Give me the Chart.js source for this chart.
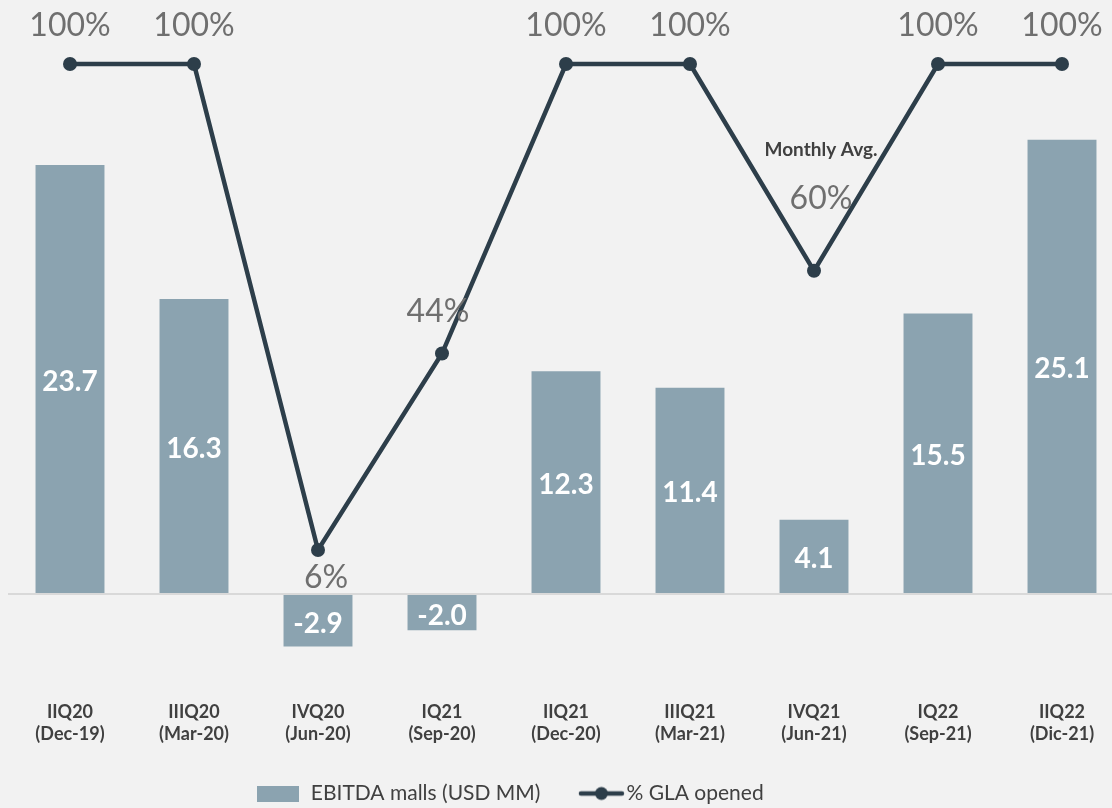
<!DOCTYPE html>
<html><head><meta charset="utf-8">
<script src="https://cdn.jsdelivr.net/npm/chart.js@4.4.1/dist/chart.umd.min.js"></script>
<style>
html,body{margin:0;padding:0;background:#F2F2F2;overflow:hidden;width:1112px;height:808px;position:relative;}
#wrap{position:absolute;left:-111px;top:0;width:1242px;height:814px;}
canvas{display:block;}
</style></head><body>
<div id="wrap"><canvas id="c" width="1242" height="814" style="width:1242px;height:814px"></canvas></div>
<script>
// ---- data ----
const categories = [["IIQ20","(Dec-19)"],["IIIQ20","(Mar-20)"],["IVQ20","(Jun-20)"],["IQ21","(Sep-20)"],["IIQ21","(Dec-20)"],["IIIQ21","(Mar-21)"],["IVQ21","(Jun-21)"],["IQ22","(Sep-21)"],["IIQ22","(Dic-21)"]];
const ebitda = [23.7, 16.3, -2.9, -2.0, 12.3, 11.4, 4.1, 15.5, 25.1];
const glaOpened = [100, 100, 6, 44, 100, 100, 60, 100, 100];
const glaNotes = ["", "", "", "", "", "", "Monthly Avg.", "", ""];
const seriesNames = ["EBITDA malls (USD MM)", "% GLA opened"];

// ---- styles ----
const BAR_COLOR = '#8BA3B0';
const LINE_COLOR = '#2D3E4A';
const TEXT_DARK = '#404040';
const TEXT_GRAY = '#6F6F6F';
const FONT = 'Lato, "Open Sans", sans-serif';
const lineLabelDx = [0, 0, 8, -4, 0, 0, 7, 0, 0];
const lineLabelDy = [-38, -38, 28, -42, -38, -38, -72, -38, -38];
const noteDy = -121;

// legend images
const barSwatch = document.createElement('canvas');
barSwatch.width = 42; barSwatch.height = 16;
(function(){const g=barSwatch.getContext('2d');g.fillStyle=BAR_COLOR;g.fillRect(0,0,42,16);})();
const lineSwatch = document.createElement('canvas');
lineSwatch.width = 62; lineSwatch.height = 16;
(function(){const g=lineSwatch.getContext('2d');g.strokeStyle=LINE_COLOR;g.lineWidth=4.5;g.lineCap='round';
  g.beginPath();g.moveTo(18,8);g.lineTo(59,8);g.stroke();
  g.fillStyle=LINE_COLOR;g.beginPath();g.arc(38.5,8,6.5,0,Math.PI*2);g.fill();})();

const labelPlugin = {
  id: 'valueLabels',
  afterDatasetsDraw(chart) {
    const ctx = chart.ctx;
    ctx.save();
    ctx.textAlign = 'center';
    ctx.textBaseline = 'middle';
    const barMeta = chart.getDatasetMeta(0);
    ctx.font = 'bold 28px ' + FONT;
    ctx.fillStyle = '#FFFFFF';
    barMeta.data.forEach((el, i) => {
      const p = el.getProps(['x', 'y', 'base'], true);
      ctx.fillText(ebitda[i].toFixed(1), p.x, (p.y + p.base) / 2 + 3);
    });
    const lineMeta = chart.getDatasetMeta(1);
    lineMeta.data.forEach((pt, i) => {
      ctx.font = '32px ' + FONT;
      ctx.fillStyle = TEXT_GRAY;
      ctx.fillText(glaOpened[i] + '%', pt.x + lineLabelDx[i], pt.y + lineLabelDy[i]);
      if (glaNotes[i]) {
        ctx.font = 'bold 19px ' + FONT;
        ctx.fillStyle = TEXT_DARK;
        ctx.fillText(glaNotes[i], pt.x + lineLabelDx[i], pt.y + noteDy);
      }
    });
    ctx.restore();
  }
};

new Chart(document.getElementById('c'), {
  data: {
    labels: categories,
    datasets: [
      { type: 'bar', label: seriesNames[0], data: ebitda, backgroundColor: BAR_COLOR,
        yAxisID: 'y', order: 1, barPercentage: 0.556, categoryPercentage: 1 },
      { type: 'line', label: seriesNames[1], data: glaOpened, borderColor: LINE_COLOR,
        backgroundColor: LINE_COLOR, borderWidth: 4.5, pointRadius: 7, pointHoverRadius: 7,
        pointBackgroundColor: LINE_COLOR, pointBorderWidth: 0, yAxisID: 'yLine', order: 0, tension: 0 }
    ]
  },
  options: {
    responsive: false,
    animation: false,
    layout: { padding: 0 },
    scales: {
      x: {
        offset: true,
        grid: { display: false },
        border: { display: false },
        ticks: { color: TEXT_DARK, font: { family: FONT, size: 18, weight: 'bold', lineHeight: 22/18 }, padding: 18, maxRotation: 0, autoSkip: false },
        afterFit(s) { s.height = 103; }
      },
      y: {
        position: 'left',
        min: -4.475, max: 32.43,
        border: { display: false },
        ticks: { display: false },
        grid: { drawTicks: false, lineWidth: 2, color: (c) => c.tick && c.tick.value === 0 ? '#D9D9D9' : 'rgba(0,0,0,0)' },
        afterBuildTicks(s) { s.ticks = [{ value: 0 }]; },
        afterFit(s) { s.width = 119; }
      },
      yLine: {
        position: 'right', display: false,
        min: -18.18, max: 111.03
      }
    },
    plugins: {
      tooltip: { enabled: false },
      legend: {
        position: 'bottom',
        labels: {
          usePointStyle: true,
          pointStyleWidth: 44,
          boxHeight: 16,
          padding: 5,
          color: TEXT_DARK,
          font: { family: FONT, size: 21 },
          generateLabels(chart) {
            return [
              { text: seriesNames[0] + '\u2003  ', pointStyle: barSwatch, fillStyle: BAR_COLOR, strokeStyle: BAR_COLOR, lineWidth: 0, datasetIndex: 0, hidden: false, fontColor: TEXT_DARK },
              { text: seriesNames[1], pointStyle: lineSwatch, fillStyle: LINE_COLOR, strokeStyle: LINE_COLOR, lineWidth: 0, datasetIndex: 1, hidden: false, fontColor: TEXT_DARK }
            ];
          }
        }
      }
    }
  },
  plugins: [labelPlugin]
});
</script>
</body></html>
